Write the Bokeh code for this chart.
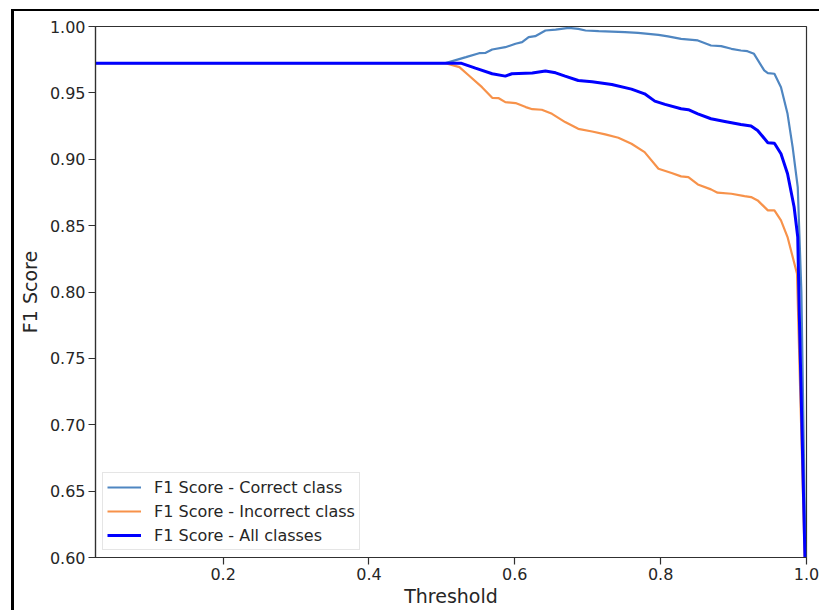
from bokeh.plotting import figure
from bokeh.models import Legend, LegendItem, FixedTicker, NumeralTickFormatter, Range1d
from bokeh.embed import file_html
from bokeh.resources import INLINE

# F1 score per decision threshold, for each class and overall
correct_threshold = [0.025, 0.505, 0.533, 0.551, 0.560, 0.569, 0.587, 0.601, 0.610, 0.619,
                     0.628, 0.642, 0.656, 0.674, 0.687, 0.697, 0.715, 0.751, 0.769, 0.797,
                     0.810, 0.828, 0.851, 0.869, 0.883, 0.897, 0.910, 0.919, 0.928, 0.942,
                     0.947, 0.956, 0.965, 0.974, 0.981, 0.988, 0.993, 1.000]
correct_f1 = [0.9724, 0.9724, 0.9769, 0.9799, 0.9802, 0.9827, 0.9844, 0.9870, 0.9882, 0.9920,
              0.9927, 0.9970, 0.9977, 0.9990, 0.9982, 0.9970, 0.9965, 0.9957, 0.9952, 0.9937,
              0.9925, 0.9907, 0.9895, 0.9857, 0.9852, 0.9832, 0.9819, 0.9814, 0.9794, 0.9669,
              0.9649, 0.9644, 0.9543, 0.9342, 0.9091, 0.8790, 0.8000, 0.5500]

incorrect_threshold = [0.025, 0.505, 0.524, 0.537, 0.555, 0.569, 0.578, 0.587, 0.601, 0.615,
                       0.624, 0.637, 0.651, 0.669, 0.687, 0.706, 0.724, 0.742, 0.760, 0.778,
                       0.797, 0.815, 0.828, 0.838, 0.851, 0.869, 0.878, 0.897, 0.915, 0.924,
                       0.933, 0.947, 0.956, 0.965, 0.974, 0.987, 1.000]
incorrect_f1 = [0.9724, 0.9724, 0.9694, 0.9631, 0.9543, 0.9463, 0.9460, 0.9430, 0.9423, 0.9393,
                0.9377, 0.9373, 0.9342, 0.9280, 0.9229, 0.9209, 0.9187, 0.9162, 0.9117, 0.9054,
                0.8928, 0.8896, 0.8871, 0.8865, 0.8810, 0.8773, 0.8748, 0.8740, 0.8722, 0.8715,
                0.8690, 0.8615, 0.8615, 0.8539, 0.8414, 0.8138, 0.5500]

all_threshold = [0.025, 0.510, 0.526, 0.546, 0.569, 0.587, 0.596, 0.624, 0.642, 0.656,
                 0.669, 0.687, 0.706, 0.733, 0.760, 0.778, 0.792, 0.806, 0.828, 0.838,
                 0.851, 0.869, 0.888, 0.910, 0.924, 0.933, 0.947, 0.956, 0.965, 0.974,
                 0.983, 0.988, 0.990, 1.000]
all_f1 = [0.9724, 0.9724, 0.9724, 0.9686, 0.9644, 0.9626, 0.9644, 0.9649, 0.9664, 0.9651,
          0.9626, 0.9593, 0.9583, 0.9563, 0.9528, 0.9493, 0.9438, 0.9413, 0.9380, 0.9373,
          0.9342, 0.9305, 0.9285, 0.9262, 0.9250, 0.9217, 0.9124, 0.9121, 0.9041, 0.8891,
          0.8640, 0.8414, 0.7860, 0.5500]

x_ticks = [0.2, 0.4, 0.6, 0.8, 1.0]
y_ticks = [0.60, 0.65, 0.70, 0.75, 0.80, 0.85, 0.90, 0.95, 1.00]

series_labels = ["F1 Score - Correct class", "F1 Score - Incorrect class", "F1 Score - All classes"]

FONT = "DejaVu Sans"
TEXT = "#262626"
AXIS = "#303030"

p = figure(width=808, height=601,
           x_range=Range1d(0.025, 1.0), y_range=Range1d(0.60, 1.0),
           output_backend="svg", toolbar_location=None,
           min_border_left=81, min_border_right=16,
           min_border_top=15, min_border_bottom=55,
           background_fill_color="white", border_fill_color="white")

# framed page: a black rule along the top and left edges
p.styles = {"margin-left": "11px", "margin-top": "9px",
            "border-top": "2px solid black", "border-left": "3px solid black"}

p.grid.visible = False
p.outline_line_color = AXIS
p.outline_line_width = 1.2

for ax in (p.xaxis[0], p.yaxis[0]):
    ax.axis_line_color = AXIS
    ax.axis_line_width = 1.2
    ax.major_tick_line_color = AXIS
    ax.major_tick_line_width = 1.2
    ax.major_tick_out = 7
    ax.major_tick_in = 0
    ax.minor_tick_line_color = None
    ax.major_label_text_font = FONT
    ax.major_label_text_font_size = "16px"
    ax.major_label_text_color = TEXT
    ax.axis_label_text_font = FONT
    ax.axis_label_text_font_size = "19px"
    ax.axis_label_text_font_style = "normal"
    ax.axis_label_text_color = TEXT
    ax.major_label_standoff = 3

p.xaxis[0].ticker = FixedTicker(ticks=x_ticks)
p.xaxis[0].formatter = NumeralTickFormatter(format="0.0")
p.xaxis[0].axis_label = "Threshold"
p.xaxis[0].axis_label_standoff = 2

p.yaxis[0].ticker = FixedTicker(ticks=y_ticks)
p.yaxis[0].formatter = NumeralTickFormatter(format="0.00")
p.yaxis[0].axis_label = "F1 Score"
p.yaxis[0].axis_label_standoff = 6

r_correct = p.line(correct_threshold, correct_f1, line_color="#4f86c1", line_width=2.2)
r_incorrect = p.line(incorrect_threshold, incorrect_f1, line_color="#f7924a", line_width=2.2)
r_all = p.line(all_threshold, all_f1, line_color="#0000ff", line_width=3)

legend = Legend(items=[LegendItem(label=series_labels[0], renderers=[r_correct]),
                       LegendItem(label=series_labels[1], renderers=[r_incorrect]),
                       LegendItem(label=series_labels[2], renderers=[r_all])],
                location=(7, 7))
legend.label_text_font = FONT
legend.label_text_font_size = "16px"
legend.label_text_color = TEXT
legend.glyph_width = 34
legend.glyph_height = 20
legend.label_height = 20
legend.label_standoff = 13
legend.spacing = 4
legend.padding = 4
legend.margin = 0
legend.border_line_color = "#cccccc"
legend.border_line_width = 1
legend.background_fill_color = "white"
legend.background_fill_alpha = 0.8
p.add_layout(legend, "center")

open("out.html", "w").write(file_html(p, INLINE))
